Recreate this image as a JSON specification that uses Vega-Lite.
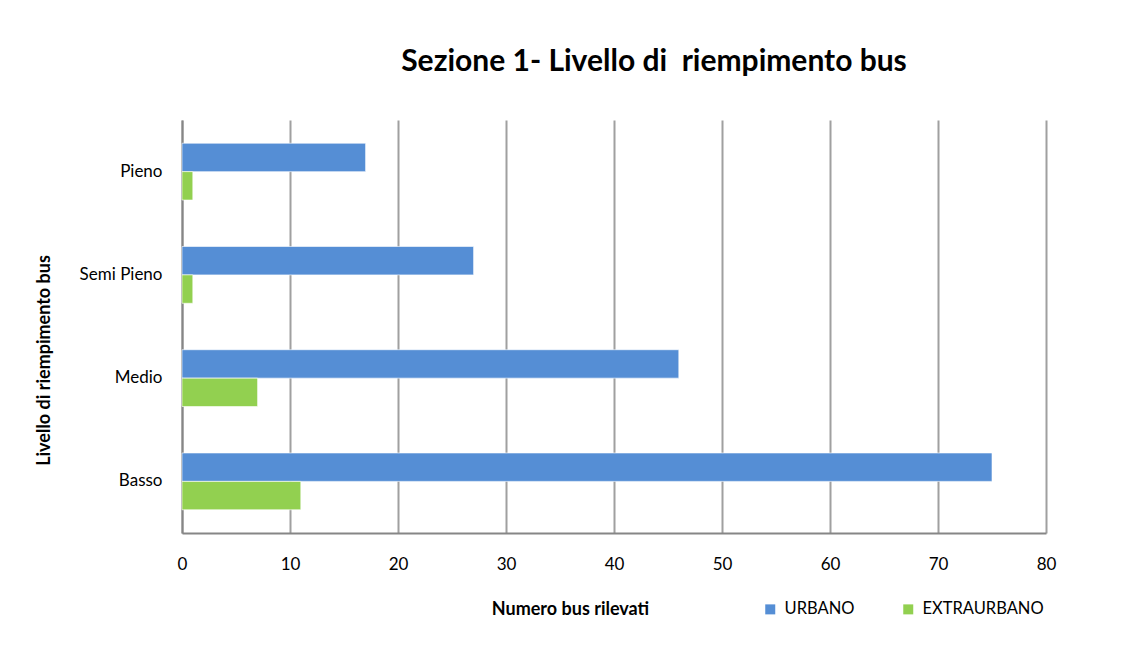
{
  "$schema": "https://vega.github.io/schema/vega-lite/v6.json",
  "autosize": {"type": "none"},
  "padding": {"left": 182, "top": 120, "right": 80, "bottom": 113},
  "width": 864,
  "height": 413,
  "background": "white",
  "title": {
    "text": "Sezione 1- Livello di\u00a0 riempimento bus",
    "font": "Lato",
    "fontSize": 30,
    "fontWeight": "bold",
    "color": "#000000",
    "anchor": "middle",
    "dx": 40,
    "offset": 43
  },
  "data": {
    "values": [
      {"livello": "Pieno", "tipo": "URBANO", "n": 17},
      {"livello": "Pieno", "tipo": "EXTRAURBANO", "n": 1},
      {"livello": "Semi Pieno", "tipo": "URBANO", "n": 27},
      {"livello": "Semi Pieno", "tipo": "EXTRAURBANO", "n": 1},
      {"livello": "Medio", "tipo": "URBANO", "n": 46},
      {"livello": "Medio", "tipo": "EXTRAURBANO", "n": 7},
      {"livello": "Basso", "tipo": "URBANO", "n": 75},
      {"livello": "Basso", "tipo": "EXTRAURBANO", "n": 11}
    ]
  },
  "mark": {"type": "bar", "stroke": "white", "strokeWidth": 1, "strokeOpacity": 0.6},
  "encoding": {
    "y": {
      "field": "livello",
      "type": "nominal",
      "sort": ["Pieno", "Semi Pieno", "Medio", "Basso"],
      "scale": {"paddingInner": 0.45, "paddingOuter": 0.225},
      "axis": {
        "title": "Livello di riempimento bus",
        "titleFont": "Lato",
        "titleFontSize": 18,
        "titleFontWeight": "bold",
        "titleColor": "#000000",
        "titleX": -129,
        "titleY": 240,
        "titleAngle": -90,
        "titleBaseline": "bottom",
        "labelFont": "Lato",
        "labelFontSize": 17,
        "labelColor": "#000000",
        "labelPadding": 20,
        "ticks": false,
        "domainColor": "#868686",
        "domainWidth": 2,
        "grid": false
      }
    },
    "yOffset": {
      "field": "tipo",
      "type": "nominal",
      "sort": ["URBANO", "EXTRAURBANO"]
    },
    "x": {
      "field": "n",
      "type": "quantitative",
      "scale": {"domain": [0, 80], "nice": false},
      "axis": {
        "values": [0, 10, 20, 30, 40, 50, 60, 70, 80],
        "title": "Numero bus rilevati",
        "titleFont": "Lato",
        "titleFontSize": 18,
        "titleFontWeight": "bold",
        "titleColor": "#000000",
        "titleX": 388,
        "titleY": 85,
        "titleBaseline": "bottom",
        "labelFont": "Lato",
        "labelFontSize": 17,
        "labelColor": "#000000",
        "labelPadding": 23,
        "labelFlush": false,
        "ticks": false,
        "domainColor": "#868686",
        "domainWidth": 2,
        "grid": true,
        "gridColor": "#A0A0A0",
        "gridWidth": 2
      }
    },
    "color": {
      "field": "tipo",
      "type": "nominal",
      "sort": ["URBANO", "EXTRAURBANO"],
      "scale": {"domain": ["URBANO", "EXTRAURBANO"], "range": ["#558ED5", "#92D050"]},
      "legend": {
        "title": null,
        "orient": "none",
        "direction": "horizontal",
        "legendX": 580,
        "legendY": 481,
        "symbolType": "square",
        "symbolSize": 100,
        "symbolStrokeWidth": 0,
        "labelFont": "Lato",
        "labelFontSize": 16.5,
        "labelColor": "#000000",
        "columnPadding": 45,
        "labelOffset": 6
      }
    }
  },
  "config": {"view": {"stroke": null}}
}
